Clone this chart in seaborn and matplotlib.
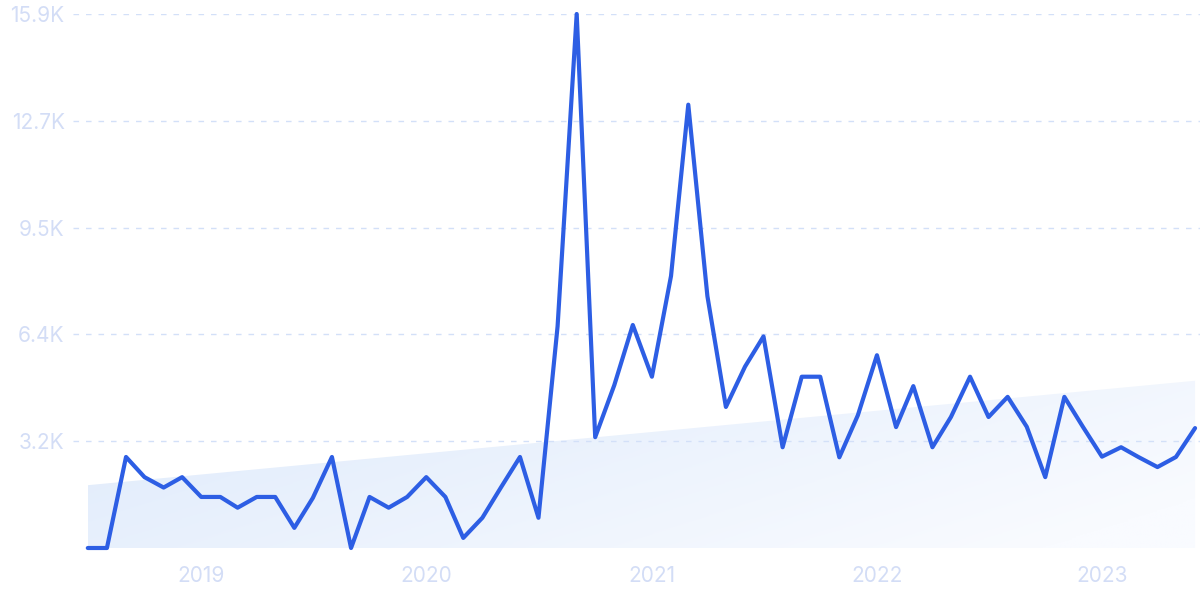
import matplotlib
matplotlib.use("Agg")
import matplotlib.pyplot as plt
import matplotlib.dates as mdates
import numpy as np
import pandas as pd
import seaborn as sns
from matplotlib.colors import LinearSegmentedColormap

# monthly search volume, Jul 2018 - Jun 2023
months = pd.date_range("2018-07-01", "2023-06-01", freq="MS")
searches = [0, 0, 2710, 2110, 1800, 2110, 1520, 1520, 1200, 1520, 1520, 600,
            1490, 2710, 0, 1520, 1200, 1520, 2110, 1520, 300, 900, 1800, 2710,
            900, 6600, 15900, 3300, 4850, 6640, 5100, 8100, 13200, 7500, 4200, 5400,
            6300, 3000, 5100, 5100, 2700, 3950, 5740, 3600, 4820, 3000, 3900, 5100,
            3900, 4500, 3610, 2110, 4500, 3610, 2720, 3000, 2710, 2410, 2710, 3570]

# trend band (start / end value)
trend = [1870, 4980]

ytick_vals = [3180, 6360, 9540, 12720, 15900]
ytick_labels = ["3.2K", "6.4K", "9.5K", "12.7K", "15.9K"]
xtick_years = ["2019", "2020", "2021", "2022", "2023"]

df = pd.DataFrame({"month": months, "searches": searches})

sns.set_style("white")
plt.rcParams["font.family"] = ["Inter", "DejaVu Sans"]

fig = plt.figure(figsize=(12, 6), dpi=100)
ax = fig.add_axes([73 / 1200, 52 / 600, 1 - 73 / 1200, 534 / 600])

# trend area with a soft diagonal gradient
x0 = mdates.date2num(months[0])
x1 = mdates.date2num(months[-1])
poly = ax.fill_between([months[0], months[-1]], [0, 0], trend, color="none", lw=0)
path = poly.get_paths()[0]
gx = np.linspace(0, 1, 300)
gy = np.linspace(0, 1, 150)
GX, GY = np.meshgrid(gx, gy)
grad = np.clip(0.75 * GX + 0.35 * GY, 0, 1)
cmap = LinearSegmentedColormap.from_list("trend", ["#deeafb", "#f9fbff"])
img = ax.imshow(grad, extent=[x0, x1, 0, max(trend)], origin="upper", aspect="auto",
                cmap=cmap, zorder=0.2)
img.set_clip_path(path, transform=ax.transData)

sns.lineplot(data=df, x="month", y="searches", color="#2d5ee4", lw=3, ax=ax,
             zorder=3, clip_on=False)

ax.set_ylim(0, 15900)
ax.set_xlim(mdates.date2num(months[0]) - 24, mdates.date2num(months[-1]) + 8)

ax.set_yticks(ytick_vals)
ax.set_yticklabels(ytick_labels)
ax.set_xticks([pd.Timestamp(f"{y}-01-01") for y in xtick_years])
ax.set_xticklabels(xtick_years)

ax.tick_params(axis="y", length=0, pad=6, labelsize=15, labelcolor="#d3ddf6")
ax.tick_params(axis="x", length=0, pad=13, labelsize=15, labelcolor="#d3ddf6")
ax.set_axisbelow(False)
ax.yaxis.grid(True, color="#d3e0f8", linestyle=(0, (4, 5)), lw=1)
ax.xaxis.grid(False)
for s in ax.spines.values():
    s.set_visible(False)
ax.set_xlabel("")
ax.set_ylabel("")

fig.savefig("out.png", dpi=100)
